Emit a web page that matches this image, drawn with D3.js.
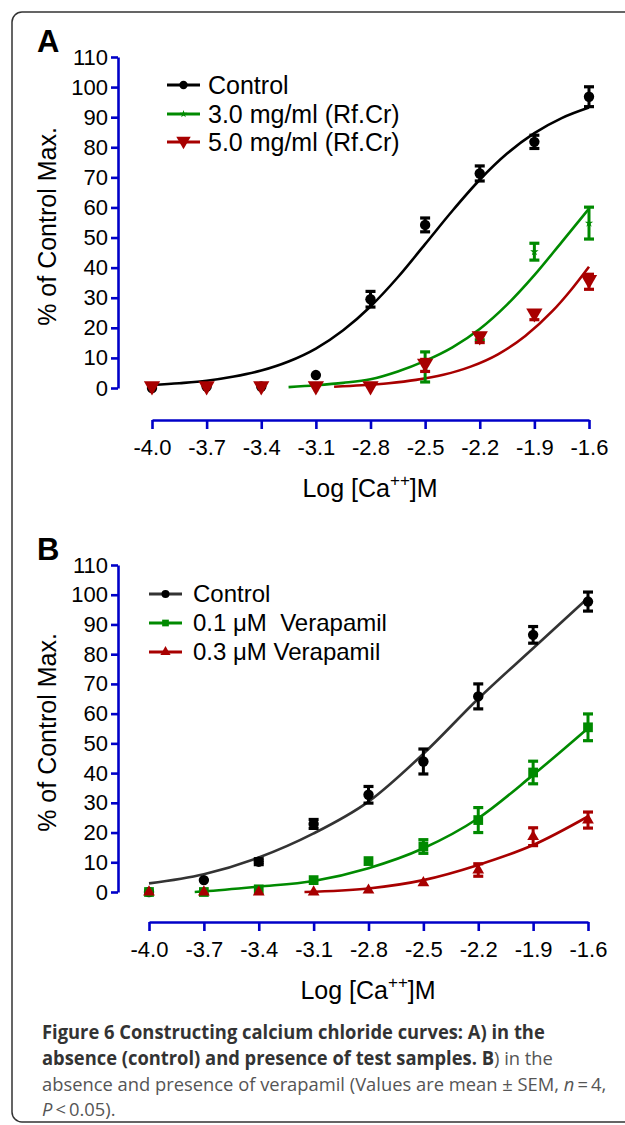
<!DOCTYPE html>
<html>
<head>
<meta charset="utf-8">
<script src="https://cdn.jsdelivr.net/npm/d3@7"></script>
<style>
  body { margin: 0; background: #fff; }
  text { font-family: "Liberation Sans", Arial, sans-serif; }
</style>
</head>
<body>
<div id="wrapper"></div>
<script>
// x positions (log molar Ca++) and axis ticks
const logCa = [-4.0, -3.7, -3.4, -3.1, -2.8, -2.5, -2.2, -1.9, -1.6]
const yTicks = [0, 10, 20, 30, 40, 50, 60, 70, 80, 90, 100, 110]

// Panel A : mean and SEM
const aControl = [0, 0.5, 0.5, 4.3, 29.5, 54.2, 71.3, 81.8, 96.8]
const aControlErr = [0, 0, 0, 0, 2.6, 2.3, 2.5, 2.2, 3.3]
const aRf3 = [0, 0, 0, 0, 0.5, 7.0, 17.0, 45.3, 54.8]
const aRf3Err = [0, 0, 0, 0, 0, 5.0, 1.0, 2.8, 5.3]
const aRf5 = [0, 0, 0, 0, 0, 7.5, 16.6, 24.2, 35.3]
const aRf5Err = [0, 0, 0, 0, 0, 2.0, 1.5, 1.5, 2.5]

// Panel A : fitted curves
const aControlFitX = [-4.0, -3.85, -3.7, -3.55, -3.4, -3.25, -3.1, -2.95, -2.8, -2.65, -2.5, -2.35, -2.2, -2.05, -1.9, -1.75, -1.6]
const aControlFitY = [1.0, 1.6, 2.4, 3.8, 5.8, 8.8, 13.1, 19.2, 27.1, 36.8, 47.8, 58.9, 69.2, 77.9, 84.7, 89.7, 93.2]
const aRf3FitX = [-3.25, -3.1, -2.95, -2.8, -2.65, -2.5, -2.35, -2.2, -2.05, -1.9, -1.75, -1.6]
const aRf3FitY = [0.3, 0.9, 1.7, 2.9, 5.5, 9.0, 13.5, 19.6, 27.7, 37.5, 48.5, 59.6]
const aRf5FitX = [-3.0, -2.85, -2.7, -2.55, -2.4, -2.25, -2.1, -1.95, -1.8, -1.7, -1.6]
const aRf5FitY = [0.4, 0.9, 1.6, 2.7, 4.4, 7.1, 11.2, 17.3, 25.6, 32.5, 40.3]

// Panel B : mean and SEM
const bControl = [0, 4.0, 10.2, 22.9, 32.7, 43.9, 65.8, 86.5, 97.7]
const bControlErr = [0, 0, 1.0, 1.5, 2.8, 4.2, 4.2, 2.8, 3.2]
const bVer01 = [0, 0, 0.9, 4.0, 10.4, 15.3, 24.2, 40.2, 55.4]
const bVer01Err = [0, 0, 0, 0, 0, 2.3, 4.2, 3.8, 4.5]
const bVer03 = [0, 0, 0, 0, 0.6, 3.1, 7.4, 18.6, 24.2]
const bVer03Err = [0, 0, 0, 0, 0, 0, 2.1, 3.0, 2.7]

// Panel B : fitted curves
const bControlFitX = [-4.0, -3.7, -3.4, -3.1, -2.8, -2.5, -2.2, -1.9, -1.6]
const bControlFitY = [2.9, 6.0, 11.6, 19.7, 30.4, 46.5, 65.0, 82.0, 98.9]
const bVer01FitX = [-3.75, -3.7, -3.4, -3.1, -2.8, -2.5, -2.2, -1.9, -1.6]
const bVer01FitY = [0, 0.2, 1.8, 3.7, 8.0, 14.7, 24.8, 39.4, 55.1]
const bVer03FitX = [-3.15, -2.8, -2.5, -2.2, -1.9, -1.6]
const bVer03FitY = [0, 1.2, 4.0, 9.1, 15.8, 25.4]

const black = '#000000'
const green = '#008a00'
const red = '#a80000'
const axisBlue = '#0000c8'

const svg = d3.select('#wrapper')
  .append('svg')
  .attr('width', 625)
  .attr('height', 1125)

// frame
svg.append('rect')
  .attr('x', 12).attr('y', 12)
  .attr('width', 700).attr('height', 1110)
  .attr('rx', 10)
  .attr('fill', 'none')
  .attr('stroke', '#333')
  .attr('stroke-width', 1.5)

function drawPanel(p) {
  const x = d3.scaleLinear().domain([-4.0, -1.6]).range(p.xRange)
  const y = d3.scaleLinear().domain([0, 110]).range(p.yRange)
  const g = svg.append('g')

  // panel letter
  g.append('text')
    .attr('x', 37).attr('y', p.letterY)
    .attr('font-size', 31).attr('font-weight', 'bold')
    .text(p.letter)

  const yAxis = g.append('g')
    .attr('transform', `translate(${p.yAxisX},0)`)
    .call(d3.axisLeft(y).tickValues(yTicks).tickSize(7).tickSizeOuter(0).tickPadding(3))
  const xAxis = g.append('g')
    .attr('transform', `translate(0,${p.xAxisY})`)
    .call(d3.axisBottom(x).tickValues(logCa).tickFormat(d => d.toFixed(1))
      .tickSize(9).tickSizeOuter(0).tickPadding(10))
  ;[yAxis, xAxis].forEach(a => {
    a.selectAll('path, line').attr('stroke', axisBlue).attr('stroke-width', 2.6)
    a.selectAll('text').attr('fill', '#000').attr('font-size', 22)
      .attr('font-family', '"Liberation Sans", Arial, sans-serif')
  })

  // axis titles
  g.append('text')
    .attr('transform', `translate(47,${(p.yRange[0] + p.yRange[1]) / 2 + 4}) rotate(-90)`)
    .attr('text-anchor', 'middle').attr('dy', '0.35em')
    .attr('font-size', 25)
    .text('% of Control Max.')
  const xt = g.append('text')
    .attr('x', p.xTitleX).attr('y', p.xAxisY + 77)
    .attr('text-anchor', 'middle')
    .attr('font-size', 25)
  xt.append('tspan').text('Log [Ca')
  xt.append('tspan').attr('font-size', 17).attr('dy', -11).text('++')
  xt.append('tspan').attr('dy', 11).text(']M')

  const line = d3.line().x(d => x(d[0])).y(d => y(d[1])).curve(d3.curveMonotoneX)

  p.series.forEach(s => {
    g.append('path')
      .datum(d3.zip(s.fitX, s.fitY))
      .attr('d', line)
      .attr('fill', 'none')
      .attr('stroke', s.curveColor || s.color)
      .attr('stroke-width', 2.6)
  })

  p.series.forEach(s => {
    const pts = logCa.map((v, i) => ({ x: v, y: s.vals[i], e: s.errs[i] }))
    const eb = g.append('g').selectAll('g')
      .data(pts.filter(d => d.e > 0))
      .enter().append('g')
      .attr('stroke', s.color)
    eb.append('line')
      .attr('x1', d => x(d.x)).attr('x2', d => x(d.x))
      .attr('y1', d => y(d.y - d.e)).attr('y2', d => y(d.y + d.e))
      .attr('stroke-width', 3)
    eb.append('line')
      .attr('x1', d => x(d.x) - 5).attr('x2', d => x(d.x) + 5)
      .attr('y1', d => y(d.y + d.e)).attr('y2', d => y(d.y + d.e))
      .attr('stroke-width', 3.2)
    eb.append('line')
      .attr('x1', d => x(d.x) - 5).attr('x2', d => x(d.x) + 5)
      .attr('y1', d => y(d.y - d.e)).attr('y2', d => y(d.y - d.e))
      .attr('stroke-width', 3.2)

    g.append('g').selectAll('path')
      .data(pts)
      .enter().append('path')
      .attr('d', d3.symbol().type(s.symbol).size(s.size))
      .attr('transform', d => `translate(${x(d.x)},${y(d.y) + (s.flip ? -2 : 0)}) rotate(${s.flip ? 180 : 0})`)
      .attr('fill', s.color)
  })

  // legend
  p.series.forEach((s, i) => {
    const ly = p.legendY[i]
    const lg = g.append('g').attr('transform', `translate(0,${ly})`)
    lg.append('line')
      .attr('x1', p.legendX[0]).attr('x2', p.legendX[1])
      .attr('stroke', s.curveColor || s.color).attr('stroke-width', 3)
    lg.append('path')
      .attr('d', d3.symbol().type(s.symbol).size(s.legendSize))
      .attr('transform', `translate(${(p.legendX[0] + p.legendX[1]) / 2},${s.flip ? -1 : 0}) rotate(${s.flip ? 180 : 0})`)
      .attr('fill', s.color)
    lg.append('text')
      .attr('x', p.legendX[2]).attr('dy', '0.35em')
      .attr('font-size', p.legendFont)
      .style('white-space', 'pre')
      .text(s.label)
  })
}

drawPanel({
  letter: 'A', letterY: 52,
  xRange: [152, 589], yRange: [388, 57],
  yAxisX: 118, xAxisY: 420, xTitleX: 370,
  legendY: [85, 114, 142], legendX: [167, 200, 208], legendFont: 25,
  series: [
    { label: 'Control', vals: aControl, errs: aControlErr, fitX: aControlFitX, fitY: aControlFitY,
      color: black, symbol: d3.symbolCircle, size: 85, legendSize: 55 },
    { label: '3.0 mg/ml (Rf.Cr)', vals: aRf3, errs: aRf3Err, fitX: aRf3FitX, fitY: aRf3FitY,
      color: green, symbol: d3.symbolStar, size: 22, legendSize: 18 },
    { label: '5.0 mg/ml (Rf.Cr)', vals: aRf5, errs: aRf5Err, fitX: aRf5FitX, fitY: aRf5FitY,
      color: red, symbol: d3.symbolTriangle, size: 115, legendSize: 90, flip: true }
  ]
})

drawPanel({
  letter: 'B', letterY: 560,
  xRange: [149, 588], yRange: [892, 565],
  yAxisX: 118, xAxisY: 922, xTitleX: 368,
  legendY: [594, 623, 652], legendX: [149, 182, 193], legendFont: 24,
  series: [
    { label: 'Control', vals: bControl, errs: bControlErr, fitX: bControlFitX, fitY: bControlFitY,
      color: black, curveColor: '#333333', symbol: d3.symbolCircle, size: 85, legendSize: 50 },
    { label: '0.1 \u03bcM  Verapamil', vals: bVer01, errs: bVer01Err, fitX: bVer01FitX, fitY: bVer01FitY,
      color: green, symbol: d3.symbolSquare, size: 95, legendSize: 45 },
    { label: '0.3 \u03bcM Verapamil', vals: bVer03, errs: bVer03Err, fitX: bVer03FitX, fitY: bVer03FitY,
      color: red, symbol: d3.symbolTriangle, size: 60, legendSize: 45 }
  ]
})

// caption
const cap = svg.append('g').attr('font-size', 19)
const capLines = [
  [{ t: 'Figure 6 Constructing calcium chloride curves: A) in the', b: true }],
  [{ t: 'absence (control) and presence of test samples. B', b: true }, { t: ') in the' }],
  [{ t: 'absence and presence of verapamil (Values are mean \u00b1 SEM, ' }, { t: 'n', i: true }, { t: '\u2009=\u20094,' }],
  [{ t: 'P', i: true }, { t: '\u2009<\u20090.05).' }]
]
const capY = [1039, 1065, 1091, 1116]
capLines.forEach((parts, i) => {
  const t = cap.append('text')
    .attr('x', 0).attr('y', capY[i])
    .style('font-family', '"Open Sans", "Noto Sans", sans-serif')
  parts.forEach(p => {
    t.append('tspan')
      .attr('font-weight', p.b ? 'bold' : 'normal')
      .attr('font-style', p.i ? 'italic' : 'normal')
      .attr('fill', p.b ? '#333333' : '#555555')
      .text(p.t)
  })
})
const firstW = cap.select('text').node().getComputedTextLength()
cap.attr('transform', `translate(42,0) scale(${503 / firstW},1)`)
</script>
</body>
</html>
